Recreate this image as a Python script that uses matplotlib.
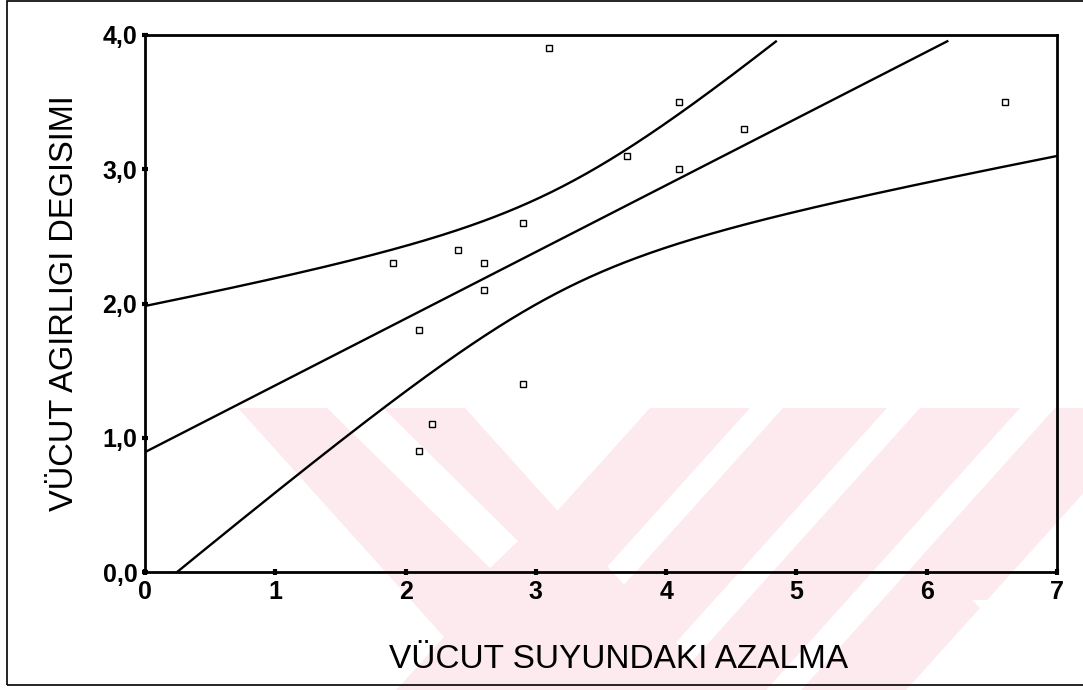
import numpy as np
import matplotlib
matplotlib.use("Agg")
import matplotlib.pyplot as plt
from matplotlib.patches import Polygon, Rectangle

# data
su_azalma = [1.9, 2.1, 2.1, 2.2, 2.4, 2.6, 2.6, 2.9, 2.9, 3.1, 3.7, 4.1, 4.1, 4.6, 6.6]
agirlik_degisim = [2.3, 1.8, 0.9, 1.1, 2.4, 2.3, 2.1, 2.6, 1.4, 3.9, 3.1, 3.5, 3.0, 3.3, 3.5]

x_ticks = [0, 1, 2, 3, 4, 5, 6, 7]
y_ticks = [0.0, 1.0, 2.0, 3.0, 4.0]
y_tick_labels = ["0,0", "1,0", "2,0", "3,0", "4,0"]

plt.rcParams['font.family'] = ['Liberation Sans', 'DejaVu Sans']

W, H = 1083, 690
fig = plt.figure(figsize=(W / 100, H / 100), dpi=100)


def px(x, y):
    # image pixel (top-left origin) -> figure fraction
    return (x / W, 1 - y / H)


def add_poly(pts, color, z):
    fig.add_artist(Polygon([px(a, b) for a, b in pts], closed=True, color=color, lw=0, zorder=z))


# faint pink watermark in the background
pink = '#fdeaee'
y0, y1 = 408, 690
d = 0.9 * (y1 - y0)
# "\" band (left arm)
add_poly([(238, y0), (465, y0), (465 + d, y1), (238 + d, y1)], pink, 0)
# "/" bands
for a, b in [(650, 750), (783, 887), (920, 1020), (1055, 1160)]:
    add_poly([(a, y0), (b, y0), (b - d, y1), (a - d, y1)], pink, 0)
# white gap inside the left arm, stops at the first "/" band
add_poly([(327, y0), (383, y0), (518, 541), (490, 568)], 'white', 0.5)
# white cut at bottom right
add_poly([(972, 600), (1000, 600), (1090, 690), (1062, 690)], 'white', 0.5)

# outer frame
fig.add_artist(Rectangle(px(7, 685), (W + 10 - 7) / W, (685 - 1) / H, fill=False,
                         ec='black', lw=1.2, zorder=1))

ax = fig.add_axes([145 / W, 1 - 572 / H, (1057 - 145) / W, (572 - 35) / H])
ax.patch.set_alpha(0)
ax.set_zorder(2)

x = np.array(su_azalma)
y = np.array(agirlik_degisim)
n = len(x)

# linear fit and 95% confidence band for the mean
slope, intercept = np.polyfit(x, y, 1)
resid = y - (intercept + slope * x)
s = np.sqrt(np.sum(resid ** 2) / (n - 2))
sxx = np.sum((x - x.mean()) ** 2)
t_crit = 2.160  # t(0.975, df=13)

xs = np.linspace(0, 7, 400)
fit = intercept + slope * xs
half = t_crit * s * np.sqrt(1 / n + (xs - x.mean()) ** 2 / sxx)
upper = fit + half
lower = fit - half

top_cut = 3.96
fit_p = np.where(fit <= top_cut, fit, np.nan)
upper_p = np.where(upper <= top_cut, upper, np.nan)

ax.plot(xs, fit_p, color='black', lw=1.7, zorder=3)
ax.plot(xs, upper_p, color='black', lw=1.7, zorder=3)
ax.plot(xs, lower, color='black', lw=1.7, zorder=3)

ax.plot(x, y, linestyle='none', marker='s', ms=5, mfc='white', mec='black', mew=1.0, zorder=4)

ax.set_xlim(0, 7)
ax.set_ylim(0, 4)
ax.set_xticks(x_ticks)
ax.set_xticklabels([str(t) for t in x_ticks])
ax.set_yticks(y_ticks)
ax.set_yticklabels(y_tick_labels)

for sp in ax.spines.values():
    sp.set_linewidth(2)
ax.tick_params(direction='inout', length=5, width=3, labelsize=18, pad=3)
for lab in ax.get_xticklabels() + ax.get_yticklabels():
    lab.set_fontweight('bold')

ax.set_xlabel("VÜCUT SUYUNDAKI AZALMA", fontsize=24)
ax.xaxis.set_label_coords(0.519, -0.135)
ax.set_ylabel("VÜCUT AGIRLIGI DEGISIMI", fontsize=23.5)
ax.yaxis.set_label_coords(-0.071, 0.5)

fig.savefig("out.png", dpi=100)
